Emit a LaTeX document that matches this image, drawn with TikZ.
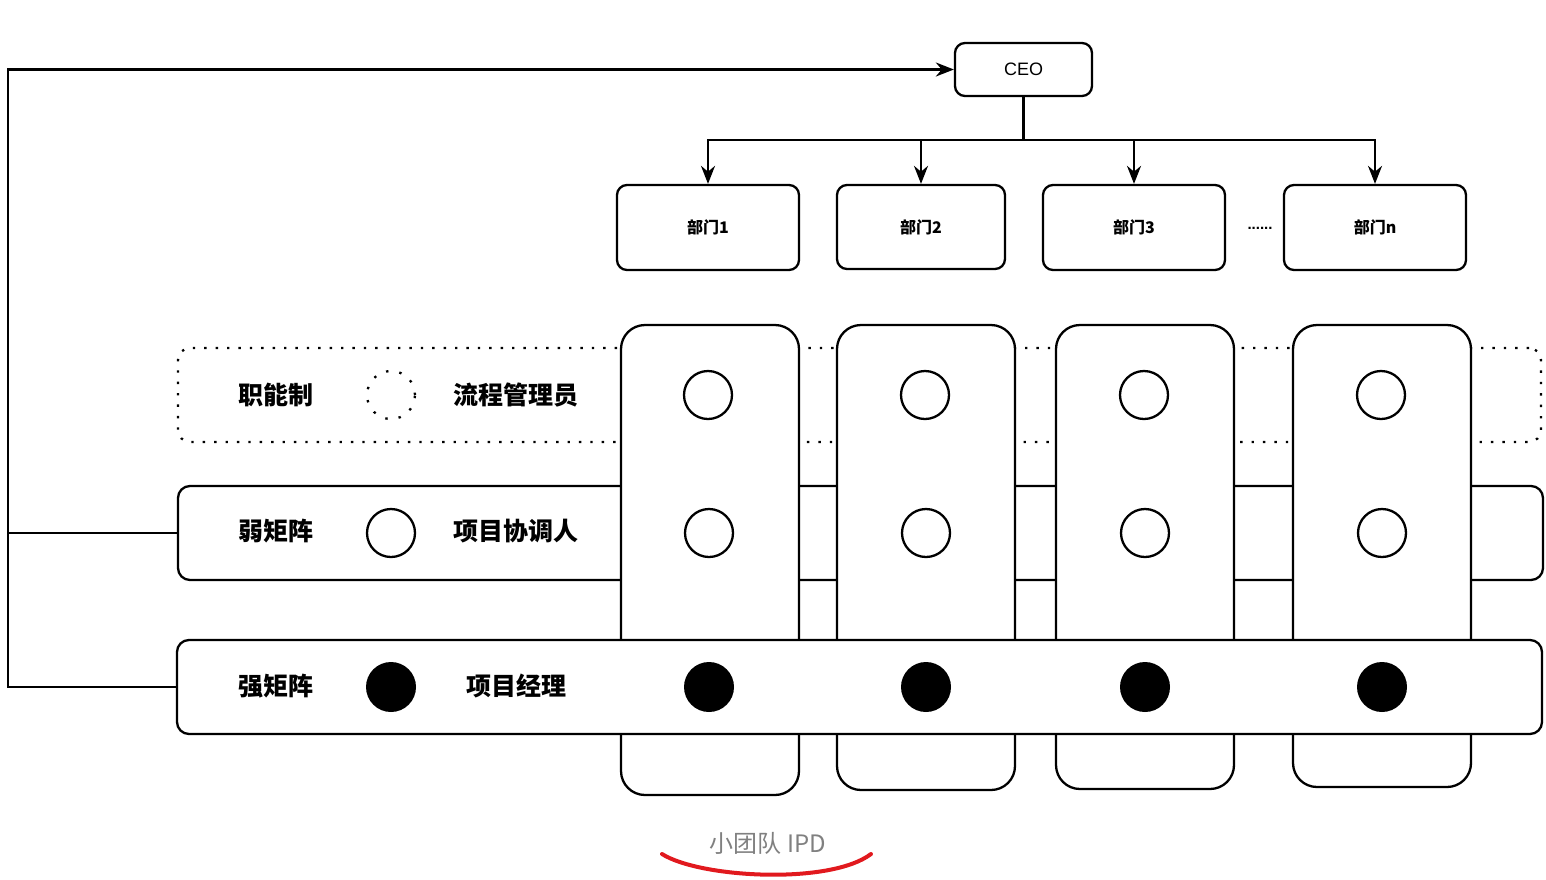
\documentclass[tikz,border=0pt]{standalone}
\usepackage{fontspec}
\setmainfont{Liberation Sans}
\newfontfamily\cjk{Noto Sans CJK SC}
\usetikzlibrary{arrows.meta,calc}
\definecolor{penred}{RGB}{225,25,30}
\begin{document}
\begin{tikzpicture}[x=0.5pt,y=-0.5pt,
 box/.style={draw,line width=1.15pt,rounded corners=5pt,fill=white,inner sep=0pt},
 col/.style={draw,line width=1.15pt,rounded corners=12pt,fill=white,inner sep=0pt,minimum width=89pt},
 band/.style={draw,line width=1.15pt,rounded corners=6pt,fill=white,inner sep=0pt,minimum width=682.5pt,minimum height=47pt},
 arr/.style={line width=1.15pt,-{Stealth[length=9pt,width=7pt]}},
 ln/.style={line width=1.15pt},
 dept/.style={box,minimum width=91pt,minimum height=42.5pt,font=\cjk\bfseries\fontsize{8}{9.5}\selectfont},
 lab/.style={font=\cjk\bfseries\fontsize{12.5}{15}\selectfont,inner sep=0pt},
 ring/.style={circle,draw,line width=1.15pt,minimum size=24pt,inner sep=0pt,fill=white},
 blob/.style={circle,fill=black,minimum size=25pt,inner sep=0pt},
 ]
\useasboundingbox (0,0) rectangle (1546,879);
% CEO and departments
\node[box,minimum width=68.5pt,minimum height=26.5pt,font=\fontsize{9}{11}\selectfont] (ceo) at (1023.5,69.5) {CEO};
\node[dept] (d1) at (708,227.5) {部门1};
\node[dept,minimum width=84pt,minimum height=42pt] (d2) at (921,227) {部门2};
\node[dept] (d3) at (1134,227.5) {部门3};
\node[dept] (dn) at (1375,227.5) {部门n};
\node[font=\bfseries\fontsize{7.5}{8}\selectfont] (etc) at (1260,228) {......};
\coordinate (bus) at (1023.5,140);
\draw[ln] (ceo.south) -- (bus);
\foreach \d in {d1,d2,d3,dn} \draw[arr] (bus) -| (\d.north);
% bands and columns
\node[band,dash pattern=on 1.2pt off 4.5pt,minimum width=681.5pt] (func) at (859.5,395) {};
\node[band] (weak) at (860.5,533) {};
\node[col,minimum height=235pt] (c1) at (710,560) {};
\node[col,minimum height=232.5pt] (c2) at (926,557.5) {};
\node[col,minimum height=232pt] (c3) at (1145,557) {};
\node[col,minimum height=231pt] (c4) at (1382,556) {};
\node[band] (strong) at (859.5,687) {};
% left connectors
\coordinate (lft) at (8,70);
\draw[arr] (strong.west) -- (strong.west -| lft) -- (lft |- ceo.west) -- (ceo.west);
\draw[ln] (weak.west) -- (weak.west -| lft);
% labels
\node[lab] (l1) at (276,395) {职能制};
\node[circle,draw,line width=1.15pt,dash pattern=on 1.2pt off 5.5pt,minimum size=24pt,inner sep=0pt] (r0) at (391,395) {};
\node[lab] (m1) at (516,395) {流程管理员};
\node[lab] (l2) at (276,531) {弱矩阵};
\node[ring] (w0) at (391,533) {};
\node[lab] (m2) at (516,531) {项目协调人};
\node[lab] (l3) at (276,686) {强矩阵};
\node[blob] (s0) at (391,687) {};
\node[lab] (m3) at (516,686) {项目经理};
% column circles
\foreach \i/\x in {1/708,2/925,3/1144,4/1381}{
  \node[ring] (f\i) at (\x,395) {};
  \node[ring] (w\i) at (\x+1,533) {};
  \node[blob] (s\i) at (\x+1,687) {};
}
% bottom note
\node[font=\cjk\fontsize{12}{14}\selectfont,text=gray] (ipd) at (768,843) {小团队 IPD};
\draw[line width=2pt,penred,line cap=round] (662,854) .. controls (700,878) and (830,885) .. (871,854);
\end{tikzpicture}
\end{document}
